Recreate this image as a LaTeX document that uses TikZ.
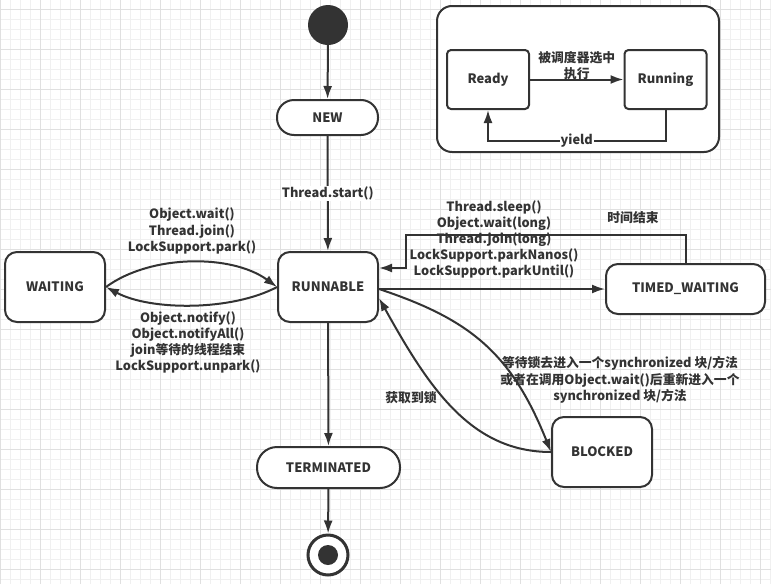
\documentclass[tikz,border=0pt]{standalone}
\usepackage{fontspec}
\newfontfamily\cjk{Noto Sans CJK SC}
\usetikzlibrary{shapes,arrows,arrows.meta,positioning}
\definecolor{ink}{HTML}{333333}
\definecolor{gridfine}{HTML}{F0F0F0}
\definecolor{gridbold}{HTML}{E0E0E0}
\tikzstyle{state} = [rectangle,rounded corners=12pt,draw=ink,line width=2pt,
  fill=white,minimum width=100pt,minimum height=70pt,text=ink,
  font=\cjk\bfseries\fontsize{13}{16}\selectfont]
\tikzstyle{pill} = [state,rounded corners=17pt,minimum height=35pt]
\tikzstyle{inner} = [state,rounded corners=4pt,minimum width=82pt,minimum height=59pt]
\tikzstyle{lbl} = [text=ink,align=center,inner sep=1pt,
  font=\cjk\bfseries\fontsize{12.8}{16.2}\selectfont]
\tikzstyle{line} = [draw=ink,line width=2pt,-{Latex[length=13pt,width=9pt]}]

\begin{document}
\begin{tikzpicture}[x=1pt,y=-1pt]

\fill[white] (0,0) rectangle (771,584);
\useasboundingbox (0,0) rectangle (771,584);
% background grid
\foreach \i in {0,10,...,770} \draw[gridfine,line width=1pt] (\i,0) -- (\i,584);
\foreach \i in {9,19,...,584} \draw[gridfine,line width=1pt] (0,\i) -- (771,\i);
\foreach \i in {0,40,...,770} \draw[gridbold,line width=1pt] (\i,0) -- (\i,584);
\foreach \i in {9,49,...,584} \draw[gridbold,line width=1pt] (0,\i) -- (771,\i);

% scheduler inset
\node [state,rounded corners=15pt,minimum width=282pt,minimum height=146pt] (cpu) at (578,79) {};
\node [inner] (ready) at (488,79.5) {Ready};
\node [inner] (running) at (665.5,79.5) {Running};

\path [line] (ready) -- node [lbl,yshift=14pt] {被调度器选中\\执行} (running);
\path [line] (running.south) -- ++(0,31) -| node [lbl,pos=0.25,fill=white] {yield} (ready.south);

% states
\node [circle,fill=ink,minimum size=40pt,inner sep=0pt] (start) at (328,25) {};
\node [pill,minimum width=101pt] (new) at (327.5,117.5) {NEW};
\node [state] (runnable) at (328,287) {RUNNABLE};
\node [state] (waiting) at (55,287) {WAITING};
\node [state,minimum width=159pt,minimum height=50pt] (timed) at (685.5,289) {TIMED\_WAITING};
\node [state] (blocked) at (602,452) {BLOCKED};
\node [pill,minimum width=143pt,minimum height=41pt,rounded corners=20pt] (terminated) at (328.5,467.5) {TERMINATED};
\node [circle,draw=ink,line width=3pt,fill=white,minimum size=40pt,inner sep=0pt] (stop) at (328,555) {};
\node [circle,fill=ink,minimum size=20pt,inner sep=0pt] (stopdot) at (stop) {};

\path [line] (start) -- (new);
\path [line] (new) -- node [lbl,fill=white] {Thread.start()} (runnable);
\path [line] (runnable) -- (terminated);
\path [line] (terminated) -- (stop);

% waiting
\path [line] (waiting.east) .. controls +(45,-33) and +(-45,-33) .. (runnable.west);
\path [line] (runnable.west) .. controls +(-45,24) and +(45,24) .. (waiting.east);
\node [lbl] (waitcalls) at (192,231) {Object.wait()\\Thread.join()\\LockSupport.park()};
\node [lbl] (notifycalls) at (188,342.5) {Object.notify()\\Object.notifyAll()\\join等待的线程结束\\LockSupport.unpark()};

% timed waiting
\path [line] (runnable.east |- timed.west) -- (timed.west);
\path [line] (timed.north) |- (406,235) |- ([yshift=19pt]runnable.east);
\node [lbl] (sleepcalls) at (494,239.5) {Thread.sleep()\\Object.wait(long)\\Thread.join(long)\\LockSupport.parkNanos()\\LockSupport.parkUntil()};
\node [lbl] (timeout) at (633,218) {时间结束};

% blocked
\path [line] ([yshift=-2pt]runnable.east) .. controls +(90,30) and +(-40,-100) .. (blocked.west);
\path [line] (blocked.west) .. controls +(-80,0) and +(50,90) .. ([yshift=-11pt]runnable.east);
\node [lbl] (lockwait) at (620,380) {等待锁去进入一个synchronized 块/方法\\或者在调用Object.wait()后重新进入一个\\synchronized 块/方法};
\node [lbl] (lockgot) at (411,398) {获取到锁};

\end{tikzpicture}
\end{document}
